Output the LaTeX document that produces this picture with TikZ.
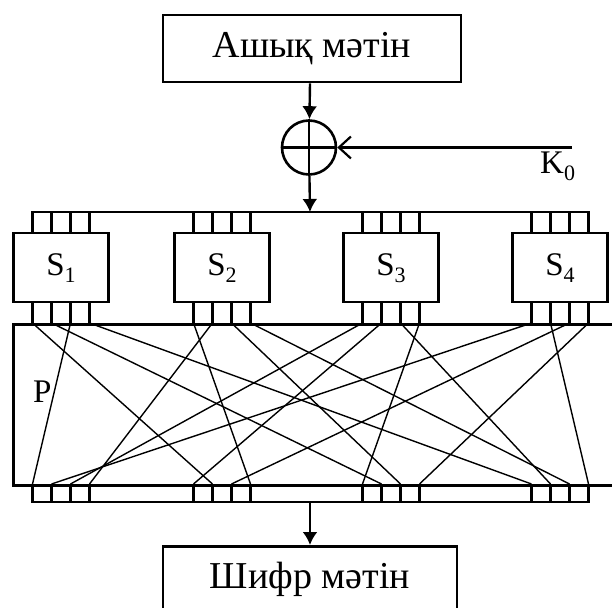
\documentclass[tikz,border=0pt]{standalone}
\usepackage{fontspec}
\setmainfont{Liberation Serif}
\usetikzlibrary{arrows.meta}
\newcommand{\bigtext}{\fontsize{38pt}{40pt}\selectfont}
\newcommand{\labtext}{\fontsize{33pt}{36pt}\selectfont}
\newcommand{\subtext}[1]{\raisebox{-7pt}{\fontsize{22pt}{24pt}\selectfont #1}}
\begin{document}
\begin{tikzpicture}[x=1pt,y=-1pt,
  frame/.style={draw,line width=2.6pt,inner sep=0pt},
  textbox/.style={frame,minimum width=298pt,minimum height=67pt,font=\bigtext,
    text height=27pt,text depth=8pt},
  sbox/.style={frame,minimum width=95pt,minimum height=69pt,font=\labtext,
    text height=24pt,text depth=9pt},
  bus/.style={line width=2.4pt},
  wire/.style={line width=1.4pt},
  flow/.style={line width=2.4pt,-{Latex[length=13pt,width=15pt]}},
  keyflow/.style={line width=2.4pt,-{Straight Barb[length=12pt,width=22pt,line width=2.2pt]}},
  xorgate/.style={draw,circle,line width=2.6pt,minimum size=54pt,inner sep=0pt}
]
\useasboundingbox (0,0) rectangle (612,607);
\clip (0,0) rectangle (612,607);

% plaintext, key addition
\node[textbox] (plain) at (312,48.5) {Ашық мәтін};
\node[xorgate] (xor) at (309,147.5) {};
\draw[line width=2.2pt] (xor.north) -- (xor.south) (xor.west) -- (xor.east);
\coordinate (keyin) at (572,147.5);
\coordinate (busin) at (310,212);
\node[anchor=base west,font=\labtext,inner sep=0pt] (keylabel) at (540,173) {K\subtext{0}};
\draw[flow] (plain.south -| busin) -- (xor);
\draw[keyflow] (keyin) -- (xor);
\draw[flow] (xor) -- (busin);

% permutation layer frame
\node[frame,minimum width=640pt,minimum height=161pt,anchor=north west] (pbox) at (12,323) {};
\node[anchor=base west,font=\labtext,inner sep=0pt] (plabel) at (33,402) {P};

% S-boxes with their input and output pins
\foreach \k/\cx in {1/61,2/222,3/391,4/560}{
  \node[sbox] (s\k) at (\cx,267.5) {S\subtext{\k}};
  \foreach \j/\dx in {1/-28.5,2/-9.5,3/9.5,4/28.5}{
    \pgfmathtruncatemacro\n{4*(\k-1)+\j}
    \coordinate (in\n) at (\cx+\dx,212);
    \coordinate (t\n) at (\cx+\dx,323);
    \coordinate (b\n) at (\cx+\dx,484);
    \coordinate (out\n) at (\cx+\dx,502);
    \draw[bus] (in\n) -- (in\n |- s\k.north);
    \draw[bus] (t\n |- s\k.south) -- (t\n);
    \draw[bus] (b\n) -- (out\n);
  }
}
\draw[bus] ([xshift=-1.2pt]in1) -- ([xshift=1.2pt]in16);
\draw[bus] ([xshift=-1.2pt]out1) -- ([xshift=1.2pt]out16);

% bit permutation wiring
\foreach \a/\b in {1/6,2/10,3/1,4/13,5/8,6/4,7/11,8/15,9/3,10/5,11/14,12/9,13/2,14/16,15/7,16/12}
  \draw[wire] (t\a) -- (b\b);

% ciphertext
\coordinate (busout) at (310,502);
\node[frame,minimum width=294pt,minimum height=95pt,anchor=north,font=\bigtext,
  text height=14pt,text depth=25pt] (cipher) at (310,545) {Шифр мәтін};
\draw[flow] (busout) -- (cipher.north);
\end{tikzpicture}
\end{document}
